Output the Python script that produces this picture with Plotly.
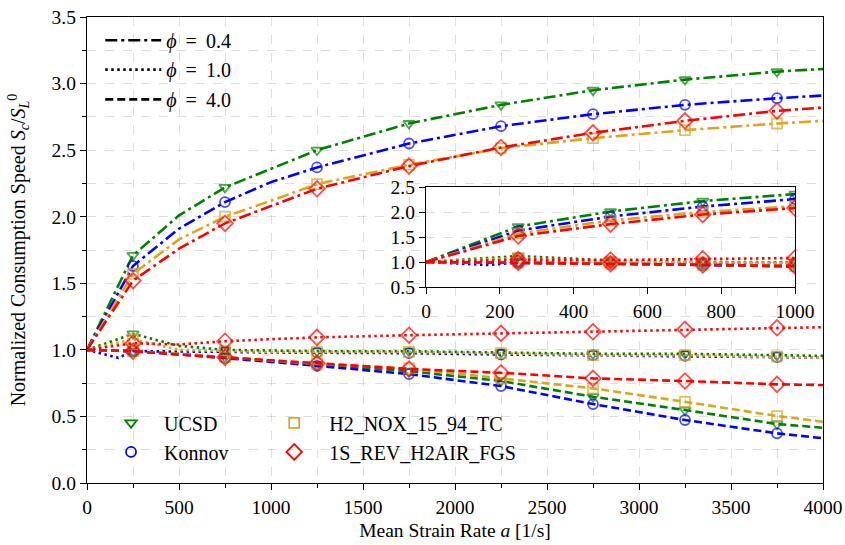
import plotly.graph_objects as go

# ---------------- data ----------------
A = [0, 250, 500, 750, 1000, 1250, 1750, 2250, 2750, 3250, 3750, 4000]
A_KONNOV_10 = [0, 170, 250, 500, 750, 1000, 1250, 1750, 2250, 2750, 3250, 3750, 4000]

MARK_MAIN = [250, 750, 1250, 1750, 2250, 2750, 3250, 3750]
MARK_INSET = [250, 500, 750, 1000]

UCSD_04 = [1.0, 1.71, 2.01, 2.22, 2.36, 2.50, 2.70, 2.84, 2.95, 3.03, 3.09, 3.11]
KONNOV_04 = [1.0, 1.63, 1.91, 2.11, 2.26, 2.37, 2.55, 2.68, 2.77, 2.84, 2.89, 2.91]
NOX_04 = [1.0, 1.57, 1.83, 2.00, 2.12, 2.245, 2.39, 2.515, 2.59, 2.65, 2.70, 2.72]
FGS_04 = [1.0, 1.52, 1.76, 1.95, 2.08, 2.21, 2.38, 2.52, 2.63, 2.72, 2.795, 2.82]

UCSD_10 = [1.0, 1.12, 1.03, 1.0, 0.995, 0.99, 0.99, 0.98, 0.97, 0.97, 0.96, 0.955]
KONNOV_10 = [1.0, 0.94, 0.99, 0.99, 0.985, 0.98, 0.98, 0.975, 0.965, 0.96, 0.955, 0.945, 0.94]
NOX_10 = [1.0, 1.08, 1.0, 0.99, 0.985, 0.985, 0.985, 0.975, 0.96, 0.96, 0.95, 0.94]
FGS_10 = [1.0, 1.05, 1.04, 1.065, 1.08, 1.094, 1.11, 1.124, 1.136, 1.154, 1.166, 1.17]

UCSD_40 = [1.0, 0.99, 0.97, 0.945, 0.92, 0.89, 0.84, 0.766, 0.648, 0.548, 0.443, 0.415]
KONNOV_40 = [1.0, 0.99, 0.965, 0.94, 0.91, 0.88, 0.818, 0.728, 0.593, 0.473, 0.373, 0.336]
NOX_40 = [1.0, 0.99, 0.97, 0.945, 0.92, 0.895, 0.86, 0.786, 0.711, 0.61, 0.503, 0.46]
FGS_40 = [1.0, 0.99, 0.965, 0.944, 0.92, 0.899, 0.856, 0.828, 0.786, 0.766, 0.741, 0.736]

MECHS = ["UCSD", "Konnov", "H2_NOX_15_94_TC", "1S_REV_H2AIR_FGS"]
PHI_LABELS = ["0.4", "1.0", "4.0"]

# ---------------- styles ----------------
FONT = "Liberation Serif"
COLORS = {"UCSD": "#008000", "Konnov": "#0000FF",
          "H2_NOX_15_94_TC": "#DAA520", "1S_REV_H2AIR_FGS": "#FF0000"}
SYMBOLS = {"UCSD": "triangle-down-open", "Konnov": "circle-open",
           "H2_NOX_15_94_TC": "square-open", "1S_REV_H2AIR_FGS": "diamond-open"}
MSIZE = {"UCSD": 10, "Konnov": 10, "H2_NOX_15_94_TC": 10, "1S_REV_H2AIR_FGS": 12}
DASHES = {"0.4": "12px,4px,3px,4px", "1.0": "2.5px,3.5px", "4.0": "8px,4px"}
LW = 2.6

series = {
    ("UCSD", "0.4"): (A, UCSD_04), ("Konnov", "0.4"): (A, KONNOV_04),
    ("H2_NOX_15_94_TC", "0.4"): (A, NOX_04), ("1S_REV_H2AIR_FGS", "0.4"): (A, FGS_04),
    ("UCSD", "1.0"): (A, UCSD_10), ("Konnov", "1.0"): (A_KONNOV_10, KONNOV_10),
    ("H2_NOX_15_94_TC", "1.0"): (A, NOX_10), ("1S_REV_H2AIR_FGS", "1.0"): (A, FGS_10),
    ("UCSD", "4.0"): (A, UCSD_40), ("Konnov", "4.0"): (A, KONNOV_40),
    ("H2_NOX_15_94_TC", "4.0"): (A, NOX_40), ("1S_REV_H2AIR_FGS", "4.0"): (A, FGS_40),
}

fig = go.Figure()

for mech in MECHS:
    for phi in PHI_LABELS:
        xs, ys = series[(mech, phi)]
        for ax, marks, xr in (("", MARK_MAIN, None), ("2", MARK_INSET, 1000)):
            if xr is not None:
                px = [x for x in xs if x <= xr]
                py = [y for x, y in zip(xs, ys) if x <= xr]
            else:
                px, py = xs, ys
            sizes = [MSIZE[mech] if x in marks else 0 for x in px]
            fig.add_trace(go.Scatter(
                x=px, y=py, mode="lines+markers",
                line=dict(color=COLORS[mech], width=LW, dash=DASHES[phi]),
                marker=dict(symbol=SYMBOLS[mech], size=sizes, color=COLORS[mech],
                            line=dict(width=1.8, color=COLORS[mech])),
                showlegend=False, xaxis="x" + ax, yaxis="y" + ax, hoverinfo="skip"))

LEG_FONT = dict(family=FONT, size=20, color="black")
legend_layout = {}

# legend: line styles (one legend per row for exact spacing)
PHI_ROW_Y = [0.992, 0.929, 0.865]
for i, phi in enumerate(PHI_LABELS):
    lname = "legend" if i == 0 else f"legend{i + 4}"
    fig.add_trace(go.Scatter(
        x=[None], y=[None], mode="lines", name=f"<i>ϕ</i> \u2009= \u2009{phi}",
        line=dict(color="black", width=LW, dash=DASHES[phi]), legend=lname))
    legend_layout[lname] = dict(x=0.018, y=PHI_ROW_Y[i], xanchor="left", yanchor="top",
                                bgcolor="rgba(0,0,0,0)", font=LEG_FONT, itemwidth=56)

# legend: mechanisms (two columns, two rows)
MECH_POS = [(0.015, 0.171), (0.015, 0.1086), (0.234, 0.171), (0.234, 0.1086)]
for i, mech in enumerate(MECHS):
    lname = f"legend{i + 7}"
    fig.add_trace(go.Scatter(
        x=[None], y=[None], mode="markers", name=mech,
        marker=dict(symbol=SYMBOLS[mech], size=MSIZE[mech], color=COLORS[mech],
                    line=dict(width=1.8, color=COLORS[mech])),
        legend=lname))
    legend_layout[lname] = dict(x=MECH_POS[i][0], y=MECH_POS[i][1], xanchor="left",
                                yanchor="top", bgcolor="rgba(0,0,0,0)", font=LEG_FONT,
                                itemwidth=60 if i >= 2 else 56)

GRID = "rgba(0,0,0,0.13)"
axis_common = dict(
    showline=True, linecolor="black", linewidth=1.3, mirror=True,
    ticks="outside", ticklen=6, tickwidth=1.2, tickcolor="black",
    showgrid=True, gridcolor=GRID, griddash="dash", gridwidth=1,
    zeroline=False, automargin=False,
)
TICKFONT = dict(family=FONT, size=19.5, color="black")

fig.update_layout(
    width=845, height=545,
    margin=dict(l=87, r=22, t=17, b=62),
    paper_bgcolor="white", plot_bgcolor="white",
    font=dict(family=FONT, size=19, color="black"),
    xaxis=dict(**axis_common, range=[0, 4000], dtick=500, tick0=0, tickfont=TICKFONT,
               minor=dict(dtick=250, ticks="outside", ticklen=3.5, tickcolor="black",
                          showgrid=True, gridcolor=GRID, griddash="dash"),
               title=dict(text="Mean Strain Rate <i>a</i> [1/s]",
                          font=dict(family=FONT, size=19.5), standoff=6)),
    yaxis=dict(**axis_common, range=[0, 3.5], dtick=0.5, tick0=0, tickformat=".1f",
               tickfont=TICKFONT,
               minor=dict(dtick=0.25, ticks="outside", ticklen=3.5, tickcolor="black",
                          showgrid=True, gridcolor=GRID, griddash="dash"),
               title=dict(text="Normalized Consumption Speed <i>S<sub>c</sub></i>/<i>S</i><sub><i>L</i></sub><sup>0</sup>",
                          font=dict(family=FONT, size=20), standoff=20)),
    xaxis2=dict(**axis_common, domain=[0.4606, 0.962], anchor="y2", range=[0, 1000],
                dtick=200, tick0=0, tickfont=TICKFONT),
    yaxis2=dict(**axis_common, domain=[0.4206, 0.635], anchor="x2", range=[0.5, 2.5],
                dtick=0.5, tick0=0.5, tickformat=".1f", tickfont=TICKFONT),
    **legend_layout,
)

# white background for inset axes area
fig.add_shape(type="rect", xref="x2 domain", yref="y2 domain", x0=0, x1=1, y0=0, y1=1,
              fillcolor="white", line=dict(width=0), layer="below")

fig.write_html("out.html")
